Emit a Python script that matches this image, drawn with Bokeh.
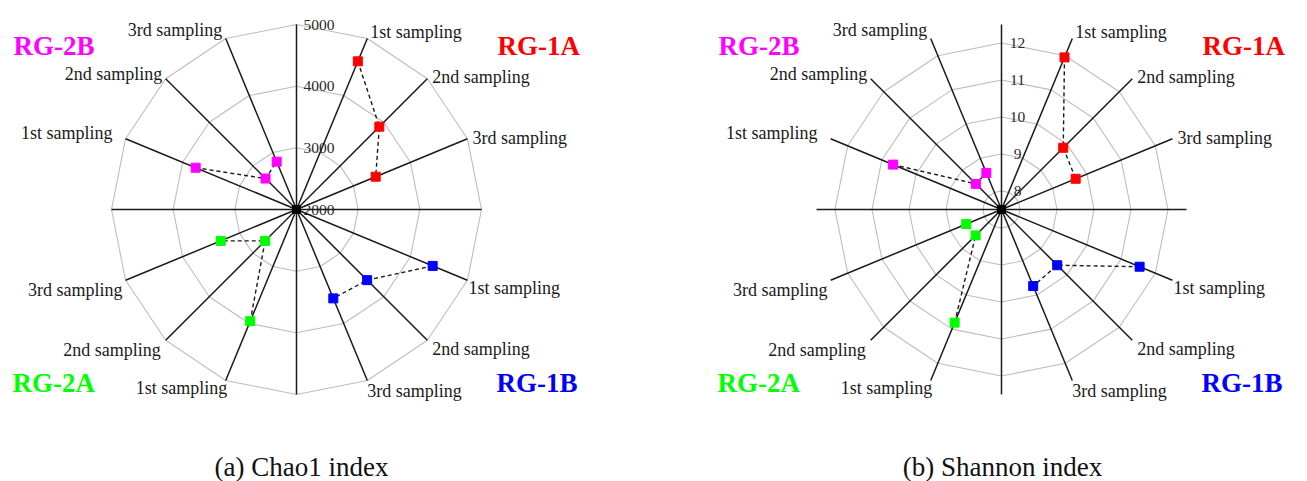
import numpy as np
from bokeh.plotting import figure
from bokeh.models import Range1d, ColumnDataSource, Label
from bokeh.layouts import row
from bokeh.embed import file_html
from bokeh.resources import INLINE
from bokeh.core.properties import value

# ---------------- data ----------------
samplings = ["1st sampling", "2nd sampling", "3rd sampling"]
groups = ["RG-1A", "RG-1B", "RG-2A", "RG-2B"]
group_colors = ["#FF0000", "#0000FF", "#00FF00", "#FF00FF"]

chao1_rg1a = [4600, 3900, 3390]
chao1_rg1b = [4390, 3620, 3560]
chao1_rg2a = [3960, 2720, 3330]
chao1_rg2b = [3770, 2710, 2840]

shannon_rg1a = [11.95, 9.86, 9.67]
shannon_rg1b = [11.54, 9.63, 9.74]
shannon_rg2a = [10.81, 8.49, 8.53]
shannon_rg2b = [10.67, 8.48, 8.57]

chao1_ticks = [2000, 3000, 4000, 5000]
shannon_ticks = [8, 9, 10, 11, 12]

captions = ["(a) Chao1 index", "(b) Shannon index"]

# ---------------- layout / style ----------------
FONT = "Liberation Serif"
R = 185.0
group_angles = {
    "RG-1A": [67.5, 45.0, 22.5],
    "RG-1B": [-22.5, -45.0, -67.5],
    "RG-2A": [-112.5, -135.0, -157.5],
    "RG-2B": [157.5, 135.0, 112.5],
}
label_off = {
    67.5: (3, 6.5, "left"), 45.0: (5, 2, "left"), 22.5: (5, 1, "left"),
    -22.5: (1, -7.5, "left"), -45.0: (5, -8.5, "left"), -67.5: (0, -10.5, "left"),
    -112.5: (1.5, -8, "right"), -135.0: (-5, -10, "right"), -157.5: (-3, -10, "right"),
    157.5: (-13, 6, "right"), 135.0: (-3.5, 5, "right"), 112.5: (-3.5, 8.7, "right"),
}
group_label_pos = {
    "RG-1A": (201, 164), "RG-1B": (200, -173),
    "RG-2A": (-284, -173), "RG-2B": (-283, 164),
}
spoke_angles = np.arange(16) * 22.5


def make_radar(series, ticks, vmin, vmax, ring_ticks, caption, x_range, width, tick_dx, tick_align, cap_dx):
    p = figure(width=width, height=481, x_range=Range1d(*x_range), y_range=Range1d(-272, 209),
               output_backend="svg", toolbar_location=None, min_border=0)
    p.axis.visible = False
    p.grid.visible = False
    p.outline_line_color = None
    p.background_fill_color = "white"
    p.border_fill_color = "white"

    def rad(v):
        return (np.asarray(v, dtype=float) - vmin) / (vmax - vmin) * R

    th = np.deg2rad(np.append(spoke_angles, spoke_angles[0]))
    for t in ring_ticks:
        r = rad(t)
        p.line(r * np.cos(th), r * np.sin(th), line_color="#BDBDBD", line_width=1.1)

    tsrc = ColumnDataSource(dict(x=[tick_dx] * len(ticks), y=list(rad(ticks)),
                                 t=[str(t) for t in ticks]))
    p.text("x", "y", text="t", source=tsrc, text_font=value(FONT), text_font_size="15.5px",
           text_align=tick_align, text_baseline="middle", text_color="#2a2a2a")

    ta = np.deg2rad(spoke_angles)
    p.segment(x0=np.zeros(16), y0=np.zeros(16), x1=R * np.cos(ta), y1=R * np.sin(ta),
              line_color="#1a1a1a", line_width=1.5)

    for g in groups:
        for s, a in zip(samplings, group_angles[g]):
            dx, dy, al = label_off[a]
            x = R * np.cos(np.deg2rad(a)) + dx
            y = R * np.sin(np.deg2rad(a)) + dy
            p.add_layout(Label(x=x, y=y, text=s, text_font=FONT, text_font_size="18px",
                               text_align=al, text_baseline="middle", text_color="#1a1a1a"))

    for g, col in zip(groups, group_colors):
        vals = series[g]
        r = rad(vals)
        a = np.deg2rad(group_angles[g])
        src = ColumnDataSource(dict(x=r * np.cos(a), y=r * np.sin(a)))
        p.line("x", "y", source=src, line_color="#1a1a1a", line_dash="4 3", line_width=1.4)
        p.scatter("x", "y", source=src, marker="square", size=9, fill_color=col, line_color=col)
        lx, ly = group_label_pos[g]
        p.add_layout(Label(x=lx, y=ly, text=g, text_font=FONT, text_font_size="27px",
                           text_font_style="bold", text_align="left", text_baseline="middle",
                           text_color=col))

    p.scatter([0], [0], marker="square", size=8, fill_color="black", line_color="black")

    p.add_layout(Label(x=cap_dx, y=-257, text=caption, text_font=FONT, text_font_size="27px",
                       text_align="center", text_baseline="middle", text_color="#111111"))
    return p


chao1 = {"RG-1A": chao1_rg1a, "RG-1B": chao1_rg1b, "RG-2A": chao1_rg2a, "RG-2B": chao1_rg2b}
shannon = {"RG-1A": shannon_rg1a, "RG-1B": shannon_rg1b, "RG-2A": shannon_rg2a, "RG-2B": shannon_rg2b}

p1 = make_radar(chao1, chao1_ticks, 2000, 5000, chao1_ticks[1:], captions[0],
                (-296, 357), 653, 7, "left", 5)
p2 = make_radar(shannon, shannon_ticks, 7.5, 12.5, shannon_ticks, captions[1],
                (-348, 306), 654, 16, "center", 1)

layout = row(p1, p2)
open("out.html", "w").write(file_html(layout, INLINE))
